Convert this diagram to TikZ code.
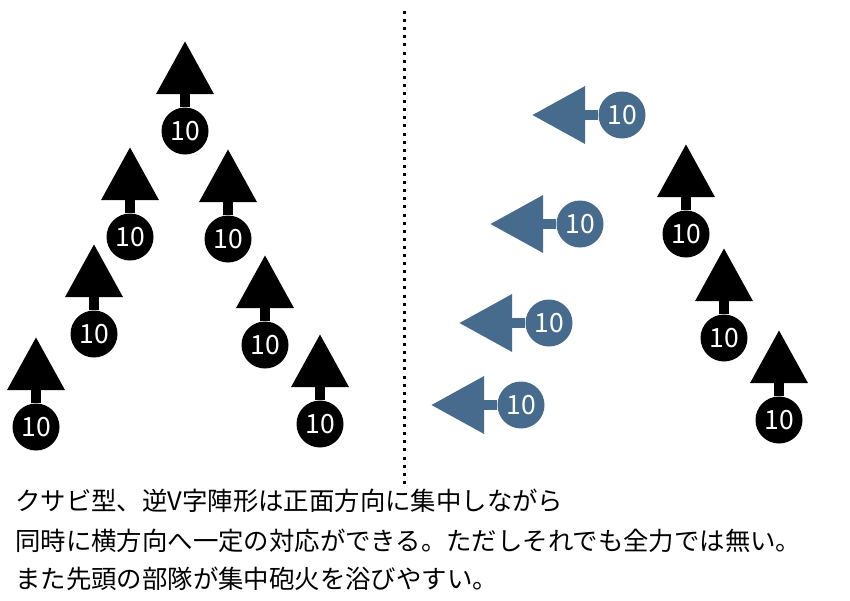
\documentclass[tikz,border=0pt]{standalone}
\usepackage{fontspec}
\newfontfamily\cjk{Noto Sans CJK JP}
\usetikzlibrary{arrows.meta}
\definecolor{unitblue}{RGB}{70,107,140}
\tikzset{
  unit/.style={circle,fill=#1,minimum size=47pt,inner sep=0pt,text=white,font=\cjk\fontsize{26.5}{26.5}\selectfont},
  unit/.default=black,
  arr/.style={draw=#1,line width=10pt,-{Triangle[length=53pt,width=55pt,fill=#1]}},
  arr/.default=black,
  caption/.style={anchor=west,inner sep=0pt,font=\cjk\fontsize{25.4}{25.4}\selectfont}
}
\begin{document}
\begin{tikzpicture}[x=1pt,y=-1pt]
\useasboundingbox (0,0) rectangle (850,600);
% black units pointing up
\foreach \n/\x/\y in {1/185/131,2/130/237,3/228/239,4/94/334,5/265/345,6/36/427,7/320/424,8/686/234,9/724/338,10/779/420}{
  \node[unit] (u\n) at (\x,\y) {10};
  \coordinate (t\n) at (\x,\y-90);
  \draw[arr] (u\n) -- (t\n);
}
% blue units pointing left
\foreach \n/\x/\y in {11/622/115,12/580/224,13/549/323,14/521/405}{
  \node[unit=unitblue] (u\n) at (\x,\y) {10};
  \coordinate (t\n) at (\x-90,\y);
  \draw[arr=unitblue] (u\n) -- (t\n);
}
% divider
\coordinate (d1) at (404,11);
\coordinate (d2) at (404,484);
\draw[line width=3pt,dash pattern=on 3pt off 5.1pt] (d1) -- (d2);
% captions
\node[caption] (c1) at (15,501) {クサビ型、逆V字陣形は正面方向に集中しながら};
\node[caption] (c2) at (15,541) {同時に横方向へ一定の対応ができる。ただしそれでも全力では無い。};
\node[caption] (c3) at (15,579) {また先頭の部隊が集中砲火を浴びやすい。};
\end{tikzpicture}
\end{document}
